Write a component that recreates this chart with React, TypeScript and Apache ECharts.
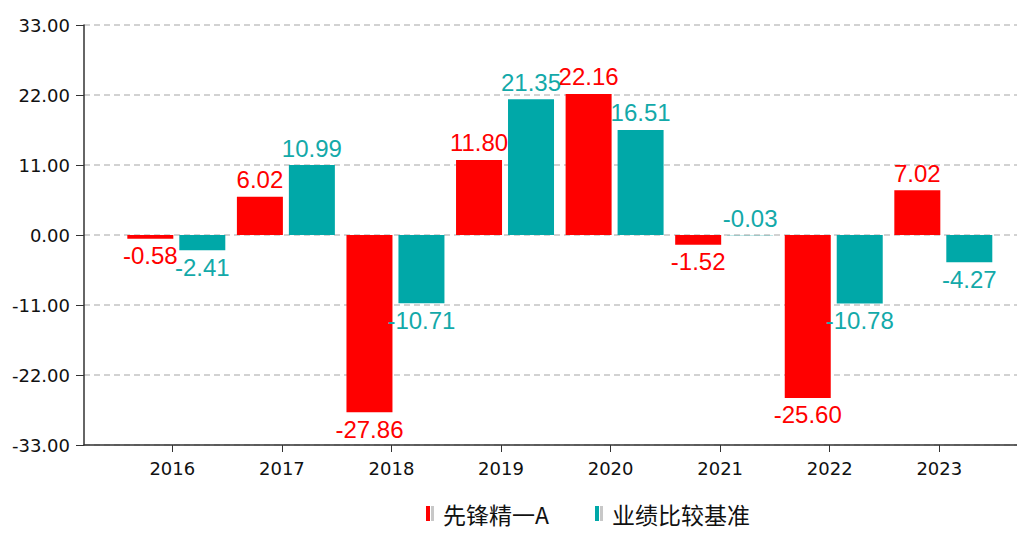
import React, { useEffect, useRef } from "react";
import * as echarts from "echarts";

const years = ["2016", "2017", "2018", "2019", "2020", "2021", "2022", "2023"];
const fundName = "先锋精一A";
const benchName = "业绩比较基准";
const fundValues = [-0.58, 6.02, -27.86, 11.8, 22.16, -1.52, -25.6, 7.02];
const benchValues = [-2.41, 10.99, -10.71, 21.35, 16.51, -0.03, -10.78, -4.27];
const yTicks = [-33, -22, -11, 0, 11, 22, 33];

const RED = "#FF0000";
const TEAL = "#00A8A8";
const PAIR_SHIFT = 0.0365;

function buildData(values: number[]) {
  return values.map((v, i) => ({
    value: [i + PAIR_SHIFT, v],
    label: { position: v >= 0 || Math.abs(v) < 0.05 ? "top" : "bottom" },
  }));
}

export default function App() {
  const ref = useRef<HTMLDivElement>(null);
  useEffect(() => {
    if (!ref.current) return;
    const chart = echarts.init(ref.current, undefined, { renderer: "svg" });
    const labelCommon = {
      show: true,
      fontFamily: "Liberation Sans, Arial, sans-serif",
      fontSize: 24,
      distance: 5,
      formatter: (p: any) => Number(p.value[1]).toFixed(2),
    };
    chart.setOption({
      animation: false,
      backgroundColor: "#ffffff",
      grid: { left: 84, right: 0, top: 25, bottom: 88, containLabel: false },
      legend: {
        left: 426,
        top: 502,
        padding: 0,
        icon: "rect",
        itemWidth: 4,
        itemHeight: 15,
        itemGap: 46,
        itemStyle: { shadowColor: "#c8c8c8", shadowOffsetX: 5, shadowBlur: 0 },
        textStyle: {
          fontFamily: "Noto Sans CJK SC, sans-serif",
          fontSize: 23,
          color: "#111",
          padding: [0, 0, 0, 8],
        },
        data: [fundName, benchName],
      },
      xAxis: {
        type: "value",
        min: -0.806,
        max: 7.709,
        splitLine: { show: false },
        axisLine: { show: true, onZero: false, lineStyle: { color: "#333", width: 1.5 } },
        axisTick: { show: true, length: 7, lineStyle: { color: "#333" }, customValues: years.map((_, i) => i) },
        axisLabel: {
          show: true,
          margin: 14,
          fontFamily: "DejaVu Sans, sans-serif",
          fontSize: 18,
          color: "#111",
          customValues: years.map((_, i) => i),
          formatter: (v: number) => years[Math.round(v)] ?? "",
        },
      },
      yAxis: {
        type: "value",
        min: yTicks[0],
        max: yTicks[yTicks.length - 1],
        interval: 11,
        axisLine: { show: true, onZero: false, lineStyle: { color: "#333", width: 1.5 } },
        axisTick: { show: true, length: 8, lineStyle: { color: "#333" } },
        axisLabel: {
          margin: 14,
          fontFamily: "DejaVu Sans, sans-serif",
          fontSize: 18,
          color: "#111",
          formatter: (v: number) => v.toFixed(2),
        },
        splitLine: { show: true, lineStyle: { color: "#c4c4c4", type: [6, 4], width: 1.5 } },
      },
      series: [
        {
          name: fundName,
          type: "bar",
          barWidth: 46,
          barGap: "13%",
          itemStyle: { color: RED },
          label: { ...labelCommon, color: RED },
          data: buildData(fundValues),
        },
        {
          name: benchName,
          type: "bar",
          barWidth: 46,
          barGap: "13%",
          itemStyle: { color: TEAL },
          label: { ...labelCommon, color: "#13A9A9" },
          data: buildData(benchValues),
        },
      ],
    });
    return () => chart.dispose();
  }, []);
  return (
    <div
      ref={ref}
      style={{ position: "absolute", left: 0, top: 0, width: 1017, height: 533 }}
    />
  );
}
